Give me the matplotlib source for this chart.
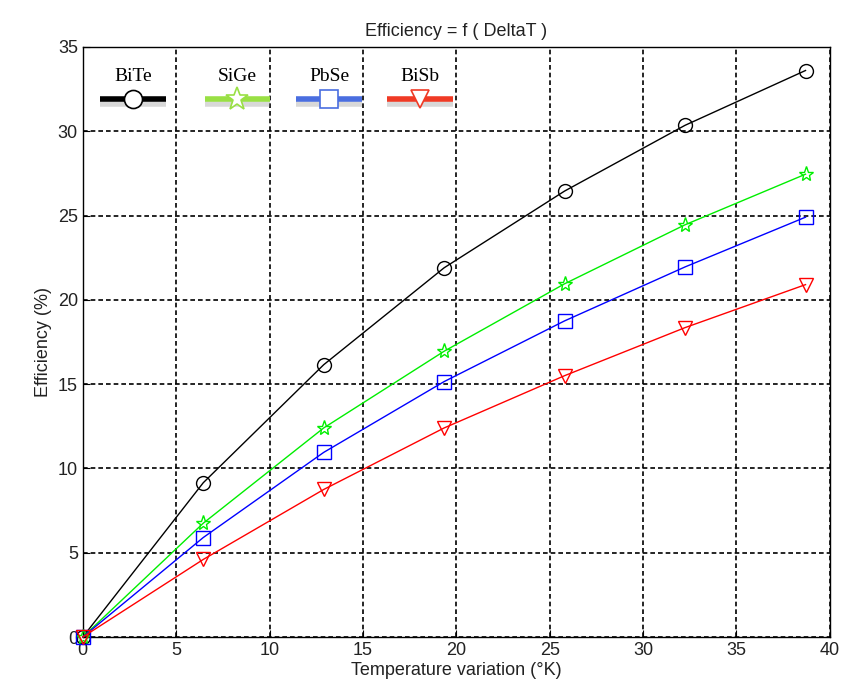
import numpy as np
import matplotlib
matplotlib.use('Agg')
import matplotlib.pyplot as plt
from matplotlib import patheffects as pe

# data
delta_t = [0, 6.45, 12.9, 19.35, 25.8, 32.25, 38.7]
bite = [0, 9.15, 16.15, 21.9, 26.45, 30.35, 33.6]
sige = [0, 6.75, 12.4, 16.95, 20.95, 24.45, 27.45]
pbse = [0, 5.9, 10.95, 15.15, 18.75, 21.95, 24.9]
bisb = [0, 4.6, 8.75, 12.4, 15.5, 18.35, 20.9]

names = ['BiTe', 'SiGe', 'PbSe', 'BiSb']
series = [bite, sige, pbse, bisb]
colors = ['black', '#00ee00', '#0000ff', '#ff0000']
markers = ['o', '*', 's', 'v']
legend_colors = ['black', '#99e044', '#4a6ee0', '#f03a25']

plt.rcParams['font.family'] = ['Liberation Sans', 'DejaVu Sans']

fig = plt.figure(figsize=(8.45, 7), dpi=100)
ax = fig.add_axes([0.098, 0.09, 0.884, 0.843])

for y, c, m in zip(series, colors, markers):
    ax.plot(delta_t, y, color=c, lw=1, marker=m, markersize=10 if m != '*' else 11,
            markerfacecolor='none', markeredgecolor=c, markeredgewidth=1, clip_on=False,
            zorder=3)

ax.set_xlim(0, 40)
ax.set_ylim(0, 35)
ax.set_xticks(np.arange(0, 41, 5))
ax.set_yticks(np.arange(0, 36, 5))
ax.grid(True, color='black', linestyle=(0, (2.8, 1.8)), lw=1.2)
ax.tick_params(direction='in', length=5, labelsize=13, color='black', labelcolor='#222222')
for s in ax.spines.values():
    s.set_linewidth(1)
    s.set_color('black')

ax.set_title('Efficiency = f ( DeltaT )', fontsize=13, pad=8, color='#222222')
ax.set_xlabel('Temperature variation (°K)', fontsize=13, labelpad=2, color='#222222')
ax.set_ylabel('Efficiency (%)', fontsize=13, labelpad=4, color='#222222')

# hand-made legend, label above the line sample
shadow = [pe.SimpleLineShadow(offset=(0, -4), shadow_color='gray', alpha=0.3), pe.Normal()]
starts = [0.023, 0.163, 0.286, 0.407]
for xs, n, lc, m in zip(starts, names, legend_colors, markers):
    ax.plot([xs, xs + 0.088], [0.912, 0.912], transform=ax.transAxes, color=lc, lw=4,
            solid_capstyle='butt', path_effects=shadow, clip_on=False, zorder=5)
    ax.plot([xs + 0.044], [0.912], transform=ax.transAxes, marker=m,
            markersize=13 if m != '*' else 17, markerfacecolor='white',
            markeredgecolor=lc, markeredgewidth=1.2, clip_on=False, zorder=6)
    ax.text(xs + 0.044, 0.935, n, transform=ax.transAxes, ha='center', va='bottom',
            fontsize=14, family='Liberation Serif', zorder=6)

fig.savefig('out.png', dpi=100)
